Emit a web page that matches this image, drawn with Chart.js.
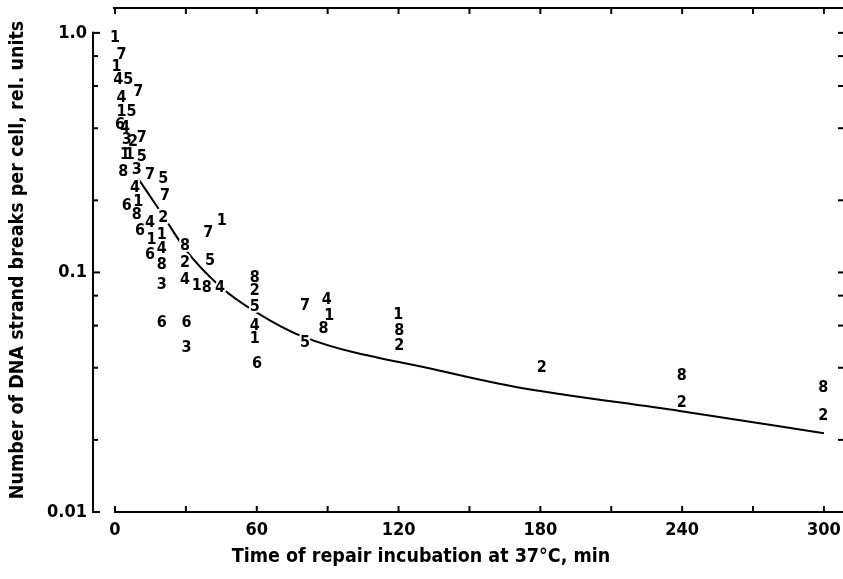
<!DOCTYPE html>
<html>
<head>
<meta charset="utf-8">
<script src="https://cdn.jsdelivr.net/npm/chart.js@4/dist/chart.umd.min.js"></script>
<style>
  body { margin: 0; background: #fff; }
  canvas { display: block; }
</style>
</head>
<body>
<canvas id="c" width="843" height="579"></canvas>
<script>
// time (min) and strand breaks (rel. units) per cell line, the digit is the marker
const s1x = [0, 0.7, 2.8, 4.2, 6.3, 9.9, 15.5, 19.8, 34.6, 45.2, 59.2, 90.7, 119.9]
const s1y = [0.95, 0.724, 0.47, 0.31, 0.31, 0.198, 0.137, 0.144, 0.0877, 0.164, 0.0526, 0.0658, 0.0668]
const s2x = [7.6, 20.4, 29.6, 59.2, 120.3, 180.6, 239.8, 299.7]
const s2y = [0.352, 0.169, 0.1097, 0.0836, 0.0493, 0.0401, 0.0286, 0.0252]
const s3x = [5.0, 9.2, 19.8, 30.3]
const s3y = [0.358, 0.269, 0.0891, 0.0486]
const s4x = [1.4, 2.8, 4.2, 8.5, 14.8, 19.8, 29.6, 44.4, 59.2, 89.6]
const s4y = [0.637, 0.535, 0.402, 0.225, 0.161, 0.125, 0.0935, 0.0863, 0.0598, 0.0772]
const s5x = [5.6, 7.0, 11.3, 20.4, 40.2, 59.2, 80.4]
const s5y = [0.637, 0.47, 0.305, 0.246, 0.1114, 0.0715, 0.0509]
const s6x = [2.1, 5.0, 10.6, 14.8, 19.8, 30.3, 60.1]
const s6y = [0.414, 0.189, 0.1486, 0.1189, 0.0617, 0.0617, 0.0414]
const s7x = [2.8, 9.9, 11.3, 14.8, 21.2, 39.5, 80.4]
const s7y = [0.81, 0.569, 0.365, 0.256, 0.208, 0.146, 0.0724]
const s8x = [3.5, 9.2, 19.8, 29.6, 38.8, 59.2, 88.2, 120.3, 239.8, 299.7]
const s8y = [0.264, 0.174, 0.108, 0.1288, 0.0864, 0.0951, 0.0579, 0.0569, 0.037, 0.0331]

// fitted repair curve
const curveX = [10, 20, 30, 45, 60, 80, 138, 168, 239, 300]
const curveY = [0.245, 0.175, 0.124, 0.0866, 0.068, 0.0537, 0.0388, 0.0335, 0.0264, 0.0213]

const xLabels = [0, 60, 120, 180, 240, 300]
const xTickMarks = [0, 30, 60, 90, 120, 150, 180, 210, 240, 270, 300]
const yLabels = [0.01, 0.1, 1]
const yTickMarks = [1, 0.8, 0.6, 0.4, 0.2, 0.1, 0.08, 0.06, 0.04, 0.02, 0.01]

const xTitle = 'Time of repair incubation at 37°C, min'
const yTitle = 'Number of DNA strand breaks per cell, rel. units'

const fam = '"DejaVu Sans Condensed", "Liberation Sans Narrow", "DejaVu Sans", sans-serif'

const pts = (xs, ys) => xs.map((x, i) => ({x: x, y: ys[i]}))
const series = [[s1x, s1y], [s2x, s2y], [s3x, s3y], [s4x, s4y], [s5x, s5y], [s6x, s6y], [s7x, s7y], [s8x, s8y]]

const datasets = series.map((s, i) => ({
  digit: String(i + 1),
  data: pts(s[0], s[1]),
  pointRadius: 0,
  pointHoverRadius: 0
}))
datasets.unshift({
  data: pts(curveX, curveY),
  showLine: true,
  borderColor: '#000',
  borderWidth: 2,
  pointRadius: 0,
  cubicInterpolationMode: 'monotone',
  fill: false
})

const digits = {
  id: 'digits',
  afterDatasetsDraw(chart) {
    const ctx = chart.ctx
    const marks = []
    chart.data.datasets.forEach((ds, i) => {
      if (!ds.digit) return
      chart.getDatasetMeta(i).data.forEach(p => marks.push([ds.digit, p.x, p.y]))
    })
    ctx.save()
    ctx.font = 'bold 16px ' + fam
    ctx.textAlign = 'center'
    ctx.textBaseline = 'middle'
    ctx.strokeStyle = '#fff'
    ctx.lineWidth = 4
    ctx.lineJoin = 'round'
    marks.forEach(m => ctx.strokeText(m[0], m[1], m[2]))
    ctx.fillStyle = '#000'
    marks.forEach(m => ctx.fillText(m[0], m[1], m[2]))
    ctx.restore()
  }
}

const frame = {
  id: 'frame',
  afterDraw(chart) {
    const {ctx, chartArea: a} = chart
    const x = chart.scales.x, y = chart.scales.y
    const line = (x1, y1, x2, y2) => { ctx.beginPath(); ctx.moveTo(x1, y1); ctx.lineTo(x2, y2); ctx.stroke() }
    ctx.save()
    ctx.strokeStyle = '#000'
    ctx.lineWidth = 2
    const x0 = x.getPixelForValue(0)
    line(x0 - 1, a.bottom, a.right + 3, a.bottom)
    line(x0 - 2, a.top, a.right + 3, a.top)
    line(a.left, y.getPixelForValue(1) - 1, a.left, a.bottom + 1)
    xTickMarks.forEach(v => {
      const px = x.getPixelForValue(v)
      line(px, a.bottom, px, a.bottom - 6)
      line(px, a.top, px, a.top + 6)
    })
    yTickMarks.forEach(v => {
      const py = y.getPixelForValue(v)
      line(a.left, py, a.left + (v === 1 || v === 0.1 || v === 0.01 ? 7 : 5), py)
      line(a.right + 3, py, a.right - 2, py)
    })
    // x title sits left of the axis centre in the original figure
    ctx.fillStyle = '#000'
    ctx.font = 'bold 19.5px ' + fam
    ctx.textAlign = 'center'
    ctx.textBaseline = 'middle'
    ctx.fillText(xTitle, 421, 557)
    ctx.restore()
  }
}

new Chart(document.getElementById('c'), {
  type: 'scatter',
  data: {datasets: datasets},
  options: {
    responsive: false,
    animation: false,
    layout: {padding: {top: 8, right: 3, left: 0, bottom: 0}},
    plugins: {legend: {display: false}, tooltip: {enabled: false}},
    scales: {
      x: {
        type: 'linear',
        min: -9.3,
        max: 306.8,
        afterBuildTicks: s => { s.ticks = xLabels.map(v => ({value: v})) },
        afterFit: s => { s.height = 67; s.paddingLeft = 0; s.paddingRight = 0 },
        grid: {display: false, drawTicks: false},
        border: {display: false},
        ticks: {color: '#000', padding: 8, maxRotation: 0, autoSkip: false, font: {family: fam, size: 18, weight: 'bold'}}
      },
      y: {
        type: 'logarithmic',
        min: 0.01,
        max: 1.27,
        afterBuildTicks: s => { s.ticks = yLabels.map(v => ({value: v})) },
        afterFit: s => { s.width = 93; s.paddingTop = 0; s.paddingBottom = 0 },
        grid: {display: false, drawTicks: false},
        border: {display: false},
        ticks: {color: '#000', padding: 6, autoSkip: false,
          callback: v => v === 1 ? '1.0' : String(v),
          font: {family: fam, size: 18, weight: 'bold'}},
        title: {display: true, text: yTitle, color: '#000',
          font: {family: fam, size: 19.5, weight: 'bold'}, padding: {top: 6, bottom: 0}}
      }
    }
  },
  plugins: [digits, frame]
})
</script>
</body>
</html>
